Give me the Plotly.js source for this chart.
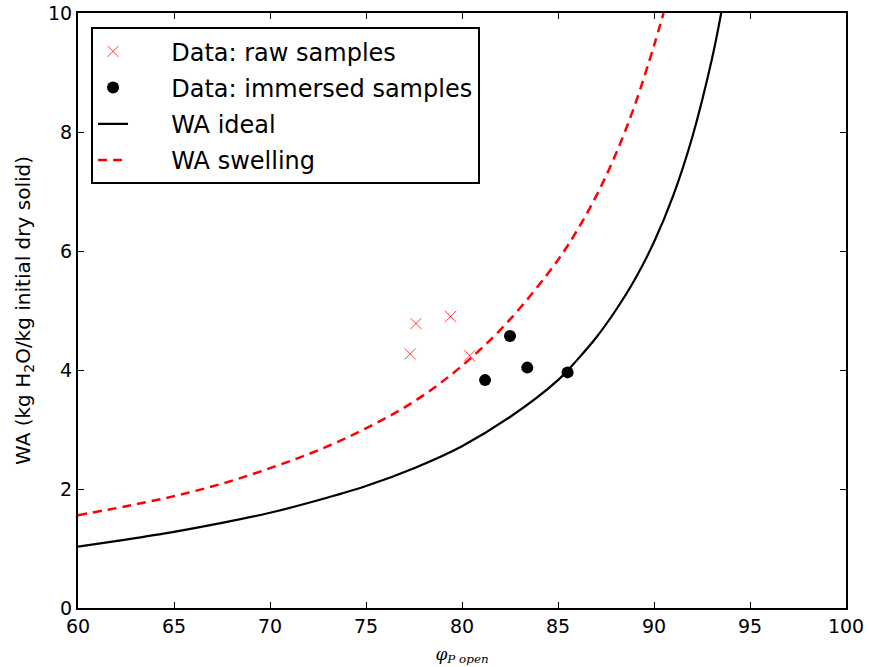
<!DOCTYPE html>
<html>
<head>
<meta charset="utf-8">
<script src="https://cdn.plot.ly/plotly-3.0.1.min.js"></script>
<style>html,body{margin:0;padding:0;background:#fff;}#chart{width:869px;height:667px;}</style>
</head>
<body>
<div id="chart"></div>
<script>
// Data: raw samples (red crosses)
const rawX = [77.3, 77.6, 79.4, 80.4];
const rawY = [4.27, 4.78, 4.90, 4.24];
// Data: immersed samples (black dots)
const immX = [81.2, 82.5, 83.4, 85.5];
const immY = [3.83, 4.57, 4.04, 3.96];
// WA ideal curve
const idealX = [60, 62.5, 65, 67.5, 70, 72.5, 75, 77.5, 80, 82.5, 85, 86, 87, 88, 89, 90, 91, 92, 93, 93.5];
const idealY = [1.03, 1.15, 1.28, 1.43, 1.60, 1.81, 2.05, 2.35, 2.72, 3.21, 3.83, 4.17, 4.55, 5.00, 5.52, 6.15, 6.93, 7.92, 9.20, 10.0];
// WA swelling curve
const swellX = [60, 62.5, 65, 67.5, 70, 72.5, 75, 77.5, 80, 82.5, 85, 86, 87, 88, 89, 90, 90.5];
const swellY = [1.56, 1.71, 1.88, 2.09, 2.35, 2.65, 3.02, 3.47, 4.07, 4.85, 5.85, 6.35, 6.93, 7.62, 8.45, 9.45, 10.0];
const xTicks = [60, 65, 70, 75, 80, 85, 90, 95, 100];
const yTicks = [0, 2, 4, 6, 8, 10];
const seriesNames = ['Data: raw samples', 'Data: immersed samples', 'WA ideal', 'WA swelling'];

const pad = '\u00A0\u00A0\u00A0\u00A0\u00A0';
const traces = [
  {x: rawX, y: rawY, mode: 'markers', type: 'scatter', name: pad + seriesNames[0], legendgroup: 'a',
   marker: {symbol: 'x-thin-open', size: 11, color: 'rgba(255,0,0,0.75)', line: {color: 'rgba(255,0,0,0.75)', width: 1}}},
  {x: immX, y: immY, mode: 'markers', type: 'scatter', name: pad + seriesNames[1], legendgroup: 'b',
   marker: {symbol: 'circle', size: 12, color: '#000'}},
  {x: idealX, y: idealY, mode: 'lines', type: 'scatter', name: pad + seriesNames[2], legendgroup: 'c',
   line: {color: '#000', width: 2.2, shape: 'spline', smoothing: 1}},
  {x: swellX, y: swellY, mode: 'lines', type: 'scatter', name: pad + seriesNames[3], legendgroup: 'd',
   line: {color: '#ff0000', width: 2.5, dash: '9px,6px', shape: 'spline', smoothing: 1}}
];

const axisCommon = {
  showgrid: false, zeroline: false, showline: true, linecolor: '#000', linewidth: 2,
  mirror: 'ticks', ticks: 'inside', ticklen: 6, tickwidth: 1, tickcolor: '#000',
  tickfont: {family: 'DejaVu Sans', size: 19, color: '#000'}
};

const layout = {
  width: 869, height: 667,
  margin: {l: 78, r: 23, t: 13, b: 59},
  paper_bgcolor: '#fff', plot_bgcolor: '#fff',
  font: {family: 'DejaVu Sans', color: '#000'},
  xaxis: Object.assign({}, axisCommon, {
    range: [60, 100], tickvals: xTicks, ticktext: xTicks.map(String),
    title: {text: '<i>φ</i><sub><i>P open</i></sub>', font: {family: 'DejaVu Serif', size: 17, color: '#000'}, standoff: 12}
  }),
  yaxis: Object.assign({}, axisCommon, {
    range: [0, 10], tickvals: yTicks, ticktext: yTicks.map(String),
    title: {text: 'WA (kg H<sub>2</sub>O/kg initial dry solid)', font: {family: 'DejaVu Sans', size: 20, color: '#000'}, standoff: 12}
  }),
  showlegend: true,
  legend: {
    x: 0.017, y: 0.976, xanchor: 'left', yanchor: 'top',
    bgcolor: '#fff', bordercolor: '#000', borderwidth: 2,
    font: {family: 'DejaVu Sans', size: 24, color: '#000'},
    itemwidth: 30, traceorder: 'grouped', tracegroupgap: 2
  }
};

Plotly.newPlot('chart', traces, layout, {displayModeBar: false, staticPlot: true});
</script>
</body>
</html>
